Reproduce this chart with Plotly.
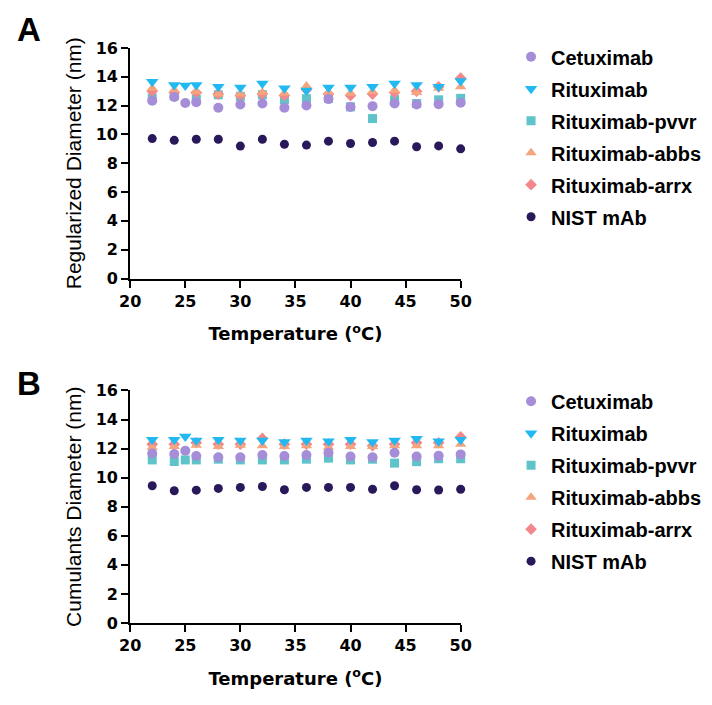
import plotly.graph_objects as go

temps = [22, 24, 25, 26, 28, 30, 32, 34, 36, 38, 40, 42, 44, 46, 48, 50]

series_names = ["Cetuximab", "Rituximab", "Rituximab-pvvr", "Rituximab-abbs", "Rituximab-arrx", "NIST mAb"]

# Panel A: Regularized diameter (nm)
cetux_A = [12.34, 12.59, 12.18, 12.23, 11.85, 12.07, 12.14, 11.85, 12.0, 12.45, 11.9, 11.96, 12.14, 12.07, 12.1, 12.2]
ritux_A = [13.65, 13.42, 13.4, 13.42, 13.3, 13.26, 13.53, 13.2, 13.04, 13.26, 13.26, 13.3, 13.53, 13.42, 13.3, 13.7]
pvvr_A = [12.52, 12.68, None, 12.45, 12.75, 12.64, 12.75, 12.41, 12.48, 12.5, 11.91, 11.1, 12.41, 12.14, 12.4, 12.5]
abbs_A = [13.2, 13.08, None, 12.97, 12.8, 12.8, 12.9, 12.86, 13.36, 12.9, 12.86, 12.97, 13.04, 12.9, 13.2, 13.3]
arrx_A = [13.0, 12.9, None, 12.9, 12.8, 12.7, 12.8, 12.7, 13.1, 12.8, 12.7, 12.8, 12.9, 13.0, 13.3, 13.9]
nist_A = [9.71, 9.59, None, 9.66, 9.66, 9.19, 9.66, 9.32, 9.26, 9.53, 9.37, 9.44, 9.53, 9.14, 9.2, 9.0]

# Panel B: Cumulants diameter (nm)
cetux_B = [11.67, 11.63, 11.85, 11.49, 11.4, 11.4, 11.56, 11.49, 11.56, 11.71, 11.45, 11.4, 11.71, 11.45, 11.5, 11.6]
ritux_B = [12.6, 12.6, 12.83, 12.56, 12.6, 12.56, 12.56, 12.45, 12.56, 12.5, 12.6, 12.45, 12.56, 12.67, 12.5, 12.6]
pvvr_B = [11.22, 11.11, 11.22, 11.22, 11.27, 11.22, 11.22, 11.22, 11.27, 11.34, 11.22, 11.27, 11.0, 11.1, 11.3, 11.3]
abbs_B = [12.1, 12.15, None, 12.23, 12.15, 12.23, 12.2, 12.15, 12.2, 12.1, 12.15, 12.15, 12.2, 12.2, 12.2, 12.3]
arrx_B = [12.3, 12.3, None, 12.4, 12.3, 12.3, 12.7, 12.3, 12.3, 12.3, 12.3, 12.2, 12.3, 12.4, 12.4, 12.8]
nist_B = [9.44, 9.1, None, 9.14, 9.26, 9.33, 9.39, 9.17, 9.33, 9.33, 9.33, 9.2, 9.44, 9.17, 9.15, 9.2]

y_ticks = [0, 2, 4, 6, 8, 10, 12, 14, 16]
x_ticks = [20, 25, 30, 35, 40, 45, 50]

styles = {
    "Cetuximab": dict(color="#a58dd8", symbol="circle", size=10),
    "Rituximab": dict(color="#22b9f1", symbol="triangle-down", size=11),
    "Rituximab-pvvr": dict(color="#5ec4c9", symbol="square", size=9),
    "Rituximab-abbs": dict(color="#f6a47e", symbol="triangle-up", size=10),
    "Rituximab-arrx": dict(color="#f2878c", symbol="diamond", size=9),
    "NIST mAb": dict(color="#29195b", symbol="circle", size=9),
}

draw_order = ["Rituximab-pvvr", "Rituximab-arrx", "Rituximab-abbs", "Cetuximab", "Rituximab", "NIST mAb"]

panel_data = {
    "A": dict(zip(series_names, [cetux_A, ritux_A, pvvr_A, abbs_A, arrx_A, nist_A])),
    "B": dict(zip(series_names, [cetux_B, ritux_B, pvvr_B, abbs_B, arrx_B, nist_B])),
}

fig = go.Figure()
panels = [("A", "x", "y", "legend"), ("B", "x2", "y2", "legend2")]
for pname, xa, ya, lg in panels:
    for name in draw_order:
        st = styles[name]
        fig.add_trace(go.Scatter(
            x=temps, y=panel_data[pname][name], mode="markers", name=name,
            xaxis=xa, yaxis=ya, legend=lg,
            legendrank=series_names.index(name) + 1,
            legendgroup=pname + name,
            marker=dict(color=st["color"], symbol=st["symbol"], size=st["size"], line=dict(width=0)),
            cliponaxis=False,
        ))

W, H = 712, 705
def px_x(p):
    return p / W
def px_y(p):
    return 1 - p / H

tick_font = dict(family="DejaVu Sans", size=16, color="black", weight="bold")
xtitle_font = dict(family="DejaVu Sans", size=18, color="black", weight="bold")
ytitle_font = dict(family="Liberation Sans, Arial", size=21, color="black")
legend_font = dict(family="Liberation Sans, Arial", size=20, color="black", weight="bold")

axis_common = dict(showgrid=False, zeroline=False, showline=True, linecolor="black", linewidth=2,
                   ticks="outside", ticklen=7, tickwidth=2, tickcolor="black", tickfont=tick_font)

xdom = [px_x(123), px_x(464)]
fig.update_layout(
    width=W, height=H, margin=dict(l=0, r=0, t=0, b=0),
    paper_bgcolor="white", plot_bgcolor="white",
    xaxis=dict(domain=xdom, range=[20, 50], tickvals=x_ticks, anchor="y",
               title=dict(text="Temperature (<sup>o</sup>C)", font=xtitle_font, standoff=18), **axis_common),
    yaxis=dict(domain=[px_y(277), px_y(40)], range=[0, 16], tickvals=y_ticks, anchor="x",
               title=dict(text="Regularized Diameter (nm)", font=ytitle_font, standoff=8), **axis_common),
    xaxis2=dict(domain=xdom, range=[20, 50], tickvals=x_ticks, anchor="y2",
                title=dict(text="Temperature (<sup>o</sup>C)", font=xtitle_font, standoff=18), **axis_common),
    yaxis2=dict(domain=[px_y(631), px_y(392)], range=[0, 16], tickvals=y_ticks, anchor="x2",
                title=dict(text="Cumulants Diameter (nm)", font=ytitle_font, standoff=8), **axis_common),
    legend=dict(x=px_x(516), y=px_y(29), xanchor="left", yanchor="top",
                font=legend_font, tracegroupgap=3, bgcolor="rgba(0,0,0,0)", itemsizing="trace"),
    legend2=dict(x=px_x(516), y=px_y(383), xanchor="left", yanchor="top",
                 font=legend_font, tracegroupgap=3, bgcolor="rgba(0,0,0,0)", itemsizing="trace"),
    showlegend=True,
    annotations=[
        dict(text="<b>A</b>", x=px_x(4), y=px_y(0), xref="paper", yref="paper", xanchor="left", yanchor="top",
             showarrow=False, font=dict(family="Liberation Sans, Arial", size=33, color="black")),
        dict(text="<b>B</b>", x=px_x(4), y=px_y(364), xref="paper", yref="paper", xanchor="left", yanchor="top",
             showarrow=False, font=dict(family="Liberation Sans, Arial", size=33, color="black")),
    ],
)

fig.write_html("out.html")
